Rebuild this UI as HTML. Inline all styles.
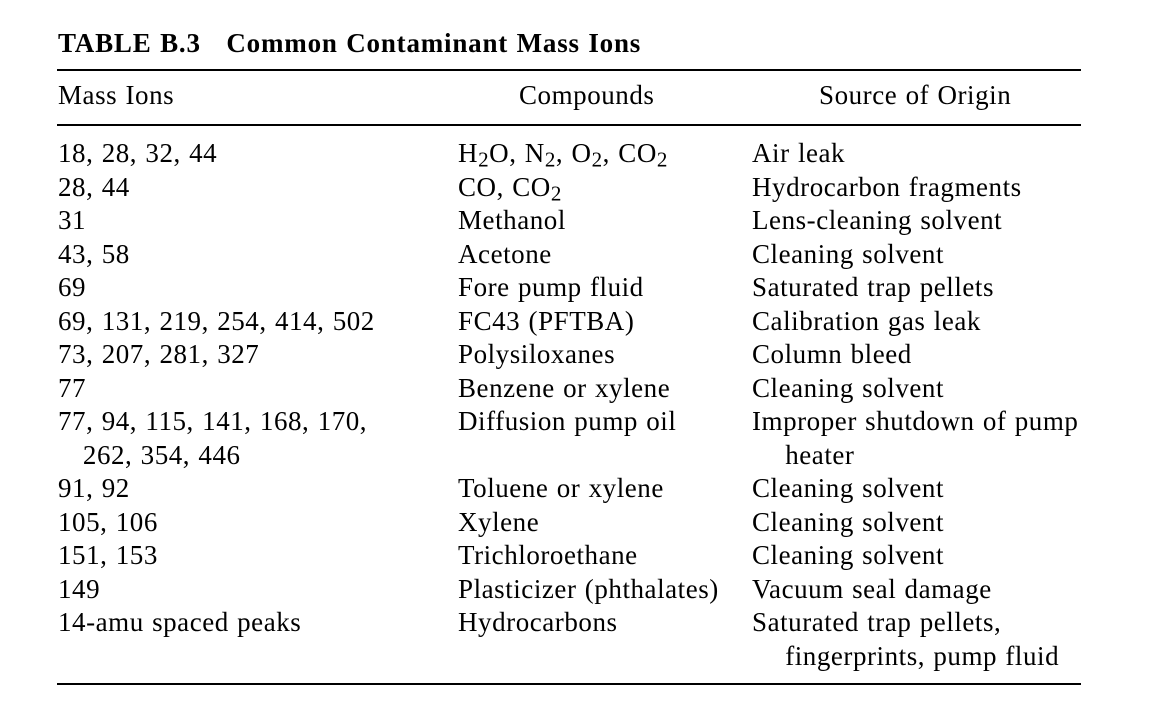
<!DOCTYPE html>
<html><head><meta charset="utf-8"><style>
body{margin:0;width:1159px;height:710px;background:#fff;position:relative;overflow:hidden;font-family:"Liberation Serif",serif;color:#000}
.t{position:absolute;font-size:27px;line-height:34px;white-space:nowrap;letter-spacing:0.55px;word-spacing:1px}
.h{position:absolute;left:57px;height:2px;width:1024px;background:#000}
sub{font-size:0.78em;vertical-align:-0.22em;line-height:0}
</style></head><body>
<div class="t" style="left:58px;top:26px;font-weight:bold;font-size:27px;letter-spacing:0.8px">TABLE B.3&nbsp;&nbsp; Common Contaminant Mass Ions</div>
<div class="h" style="top:69px"></div>
<div class="t" style="left:58px;top:78px">Mass Ions</div>
<div class="t" style="left:519px;top:78px">Compounds</div>
<div class="t" style="left:819px;top:78px">Source of Origin</div>
<div class="h" style="top:124px"></div>
<div class="h" style="top:683px"></div>
<div id="rows"></div>
<script>
const massIons=["18, 28, 32, 44","28, 44","31","43, 58","69","69, 131, 219, 254, 414, 502","73, 207, 281, 327","77","77, 94, 115, 141, 168, 170,","&nbsp;&nbsp;&nbsp;262, 354, 446","91, 92","105, 106","151, 153","149","14-amu spaced peaks",""];
const compounds=["H<sub>2</sub>O, N<sub>2</sub>, O<sub>2</sub>, CO<sub>2</sub>","CO, CO<sub>2</sub>","Methanol","Acetone","Fore pump fluid","FC43 (PFTBA)","Polysiloxanes","Benzene or xylene","Diffusion pump oil","","Toluene or xylene","Xylene","Trichloroethane","Plasticizer (phthalates)","Hydrocarbons",""];
const sources=["Air leak","Hydrocarbon fragments","Lens-cleaning solvent","Cleaning solvent","Saturated trap pellets","Calibration gas leak","Column bleed","Cleaning solvent","Improper shutdown of pump","&nbsp;&nbsp;&nbsp;&nbsp;heater","Cleaning solvent","Cleaning solvent","Cleaning solvent","Vacuum seal damage","Saturated trap pellets,","&nbsp;&nbsp;&nbsp;&nbsp;fingerprints, pump fluid"];
const rows=document.getElementById('rows');
const cols=[[massIons,58,'mass-ions-cell'],[compounds,458,'compound-cell'],[sources,752,'source-cell']];
for(let i=0;i<16;i++){
  const top=136+i*33.5;
  for(const [arr,x,nm] of cols){
    if(!arr[i])continue;
    const d=document.createElement('div');
    d.className='t';
    d.style.left=x+'px';d.style.top=top+'px';
    d.innerHTML=arr[i];
    
    
    rows.appendChild(d);
  }
}
</script>
</body></html>
